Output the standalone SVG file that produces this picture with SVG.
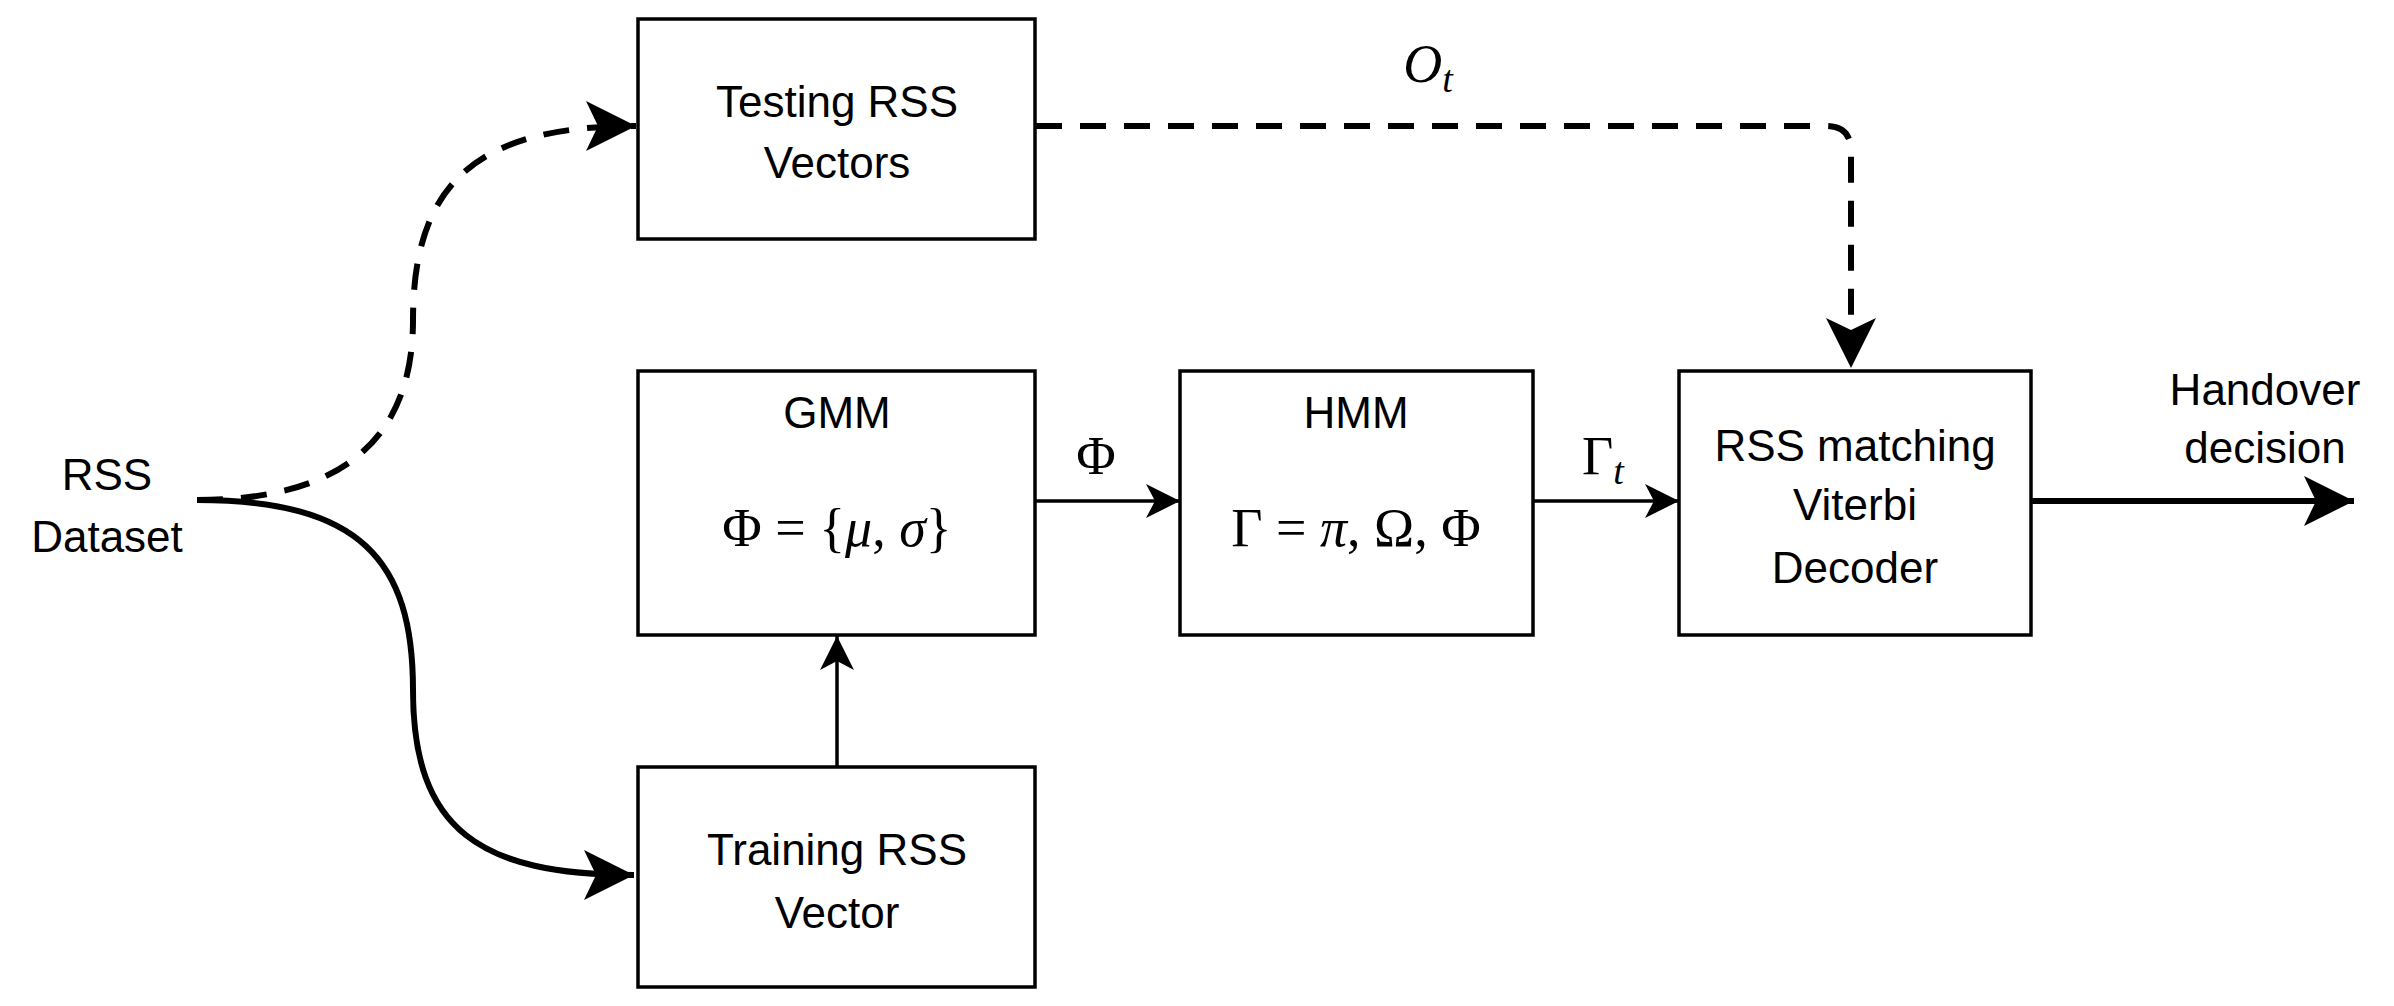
<svg xmlns="http://www.w3.org/2000/svg" width="2394" height="1006" viewBox="0 0 2394 1006">
<style>
.box{fill:#fff;stroke:#000;stroke-width:3.5}
.t{font-family:"Liberation Sans",Arial,sans-serif;font-size:44px;text-anchor:middle;fill:#000}
.m{font-family:"Liberation Serif","Times New Roman",serif;font-size:54px;text-anchor:middle;fill:#000}
.i{font-style:italic}
.thin{fill:none;stroke:#000;stroke-width:3.5}
.thick{fill:none;stroke:#000;stroke-width:6}
.dash{fill:none;stroke:#000;stroke-width:6;stroke-dasharray:26 18}
</style>
<defs>
<marker id="a" markerUnits="userSpaceOnUse" markerWidth="60" markerHeight="60" refX="50" refY="25" orient="auto" viewBox="0 0 60 50">
<path d="M0,0 L50,25 L0,50 L12,25 Z" fill="#000"/>
</marker>
<marker id="as" markerUnits="userSpaceOnUse" markerWidth="40" markerHeight="40" refX="34" refY="17" orient="auto" viewBox="0 0 40 34">
<path d="M0,0 L34,17 L0,34 L9,17 Z" fill="#000"/>
</marker>
</defs>
<g id="connectors">
<path class="dash" d="M197,500 C 300,500 413,470 413,320 C 413,180 480,126 636,126" marker-end="url(#a)"/>
<path class="thick" d="M197,500 C 360,500 413,560 413,690 C 413,830 480,875 634,875" marker-end="url(#a)"/>
<path class="dash" d="M1036,126 L1826,126 Q1851,126 1851,151 L1851,368" marker-end="url(#a)"/>
<path class="thin" d="M837,767 L837,636" marker-end="url(#as)"/>
<path class="thin" d="M1036,501 L1180,501" marker-end="url(#as)"/>
<path class="thin" d="M1534,501 L1679,501" marker-end="url(#as)"/>
<path class="thick" d="M2032,501 L2354,501" marker-end="url(#a)"/>
</g>
<g id="rss-dataset"><text class="t" x="107" y="490">RSS</text><text class="t" x="107" y="552">Dataset</text></g>
<g id="testing"><rect class="box" x="638" y="19" width="397" height="220"/><text class="t" x="837" y="117">Testing RSS</text><text class="t" x="837" y="178">Vectors</text></g>
<g id="gmm"><rect class="box" x="638" y="371" width="397" height="264"/><text class="t" x="837" y="428">GMM</text><text class="m" x="837" y="546">Φ = {<tspan class="i">μ</tspan>, <tspan class="i">σ</tspan>}</text></g>
<g id="training"><rect class="box" x="638" y="767" width="397" height="220"/><text class="t" x="837" y="865">Training RSS</text><text class="t" x="837" y="928">Vector</text></g>
<g id="hmm"><rect class="box" x="1180" y="371" width="353" height="264"/><text class="t" x="1356" y="428">HMM</text><text class="m" x="1356" y="546">Γ = <tspan class="i">π</tspan>, Ω, Φ</text></g>
<g id="rss-matching"><rect class="box" x="1679" y="371" width="352" height="264"/><text class="t" x="1855" y="461">RSS matching</text><text class="t" x="1855" y="520">Viterbi</text><text class="t" x="1855" y="583">Decoder</text></g>
<g id="labels">
<text class="m" x="1428" y="82"><tspan class="i">O</tspan><tspan class="i" font-size="38" dy="10">t</tspan></text>
<text class="m" x="1096" y="474">Φ</text>
<text class="m" x="1603" y="474">Γ<tspan class="i" font-size="38" dy="10">t</tspan></text>
<text class="t" x="2265" y="405">Handover</text>
<text class="t" x="2265" y="463">decision</text>
</g>
</svg>
